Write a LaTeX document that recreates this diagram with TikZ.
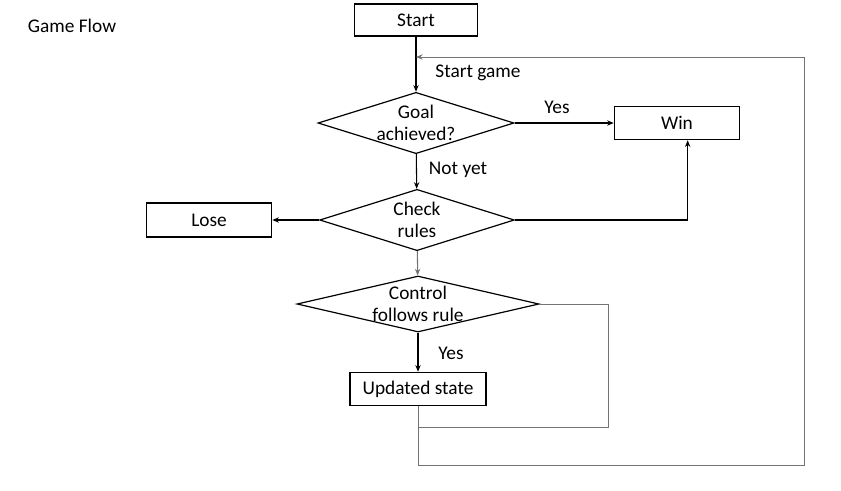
\documentclass[tikz,border=0pt]{standalone}
\usepackage{fontspec}
\setmainfont{Carlito}
\usetikzlibrary{shapes.geometric,arrows.meta}
\tikzset{
  box/.style={draw, line width=0.9pt, inner sep=0pt},
  decision/.style={draw, diamond, line width=0.9pt, inner sep=0pt},
  flow/.style={->, line width=0.8pt},
  back/.style={line width=0.7pt, draw=black!55},
}
\begin{document}
\begin{tikzpicture}[x=0.75pt, y=-0.75pt, >={Stealth[length=5pt,width=4pt]},
    font=\fontsize{14.5}{16.5}\selectfont]
  \useasboundingbox (0,0) rectangle (841,490);
  % boxes and decisions
  \node (title) at (72,26) {Game Flow};
  \node[box, minimum width=92pt, minimum height=24pt] (start) at (416,20) {Start};
  \node[decision, minimum width=147pt, minimum height=46pt,
        label={[align=center]center:Goal\\achieved?}] (goal) at (416,123) {};
  \node[box, minimum width=94pt, minimum height=25pt] (win) at (677,123) {Win};
  \node[decision, minimum width=146pt, minimum height=46pt,
        label={[align=center]center:Check\\rules}] (check) at (417,220) {};
  \node[box, minimum width=94pt, minimum height=25.5pt] (lose) at (209,220) {Lose};
  \node[decision, minimum width=181.5pt, minimum height=42pt,
        label={[align=center]center:Control\\follows rule}] (control) at (418,304) {};
  \node[box, minimum width=102pt, minimum height=25pt] (update) at (418,389) {Updated state};
  % labels
  \node (startgame) at (478,73) {Start game};
  \node (yes1) at (557,107) {Yes};
  \node (notyet) at (458,170) {Not yet};
  \node (yes2) at (451,353) {Yes};
  % corners of the loops
  \coordinate (ruleturn) at (608,427);
  \coordinate (rulejoin) at (418,427);
  \coordinate (loopbl) at (418,465);
  \coordinate (looptr) at (804,57);
  \coordinate (entry) at (416,57);
  % connectors
  \draw[flow] (start) -- (goal);
  \draw[flow] (goal) -- (win);
  \draw[flow] (goal) -- (check);
  \draw[flow] (check) -- (lose);
  \draw[flow] (check.east) -| ([xshift=8pt]win.south);
  \draw[flow, draw=black!55] (check) -- (control);
  \draw[flow] (control) -- (update);
  \draw[back] (control.east) -| (ruleturn) -- (rulejoin);
  \draw[back, ->] (update.south) -- (loopbl) -| (looptr) -- (entry);
\end{tikzpicture}
\end{document}
